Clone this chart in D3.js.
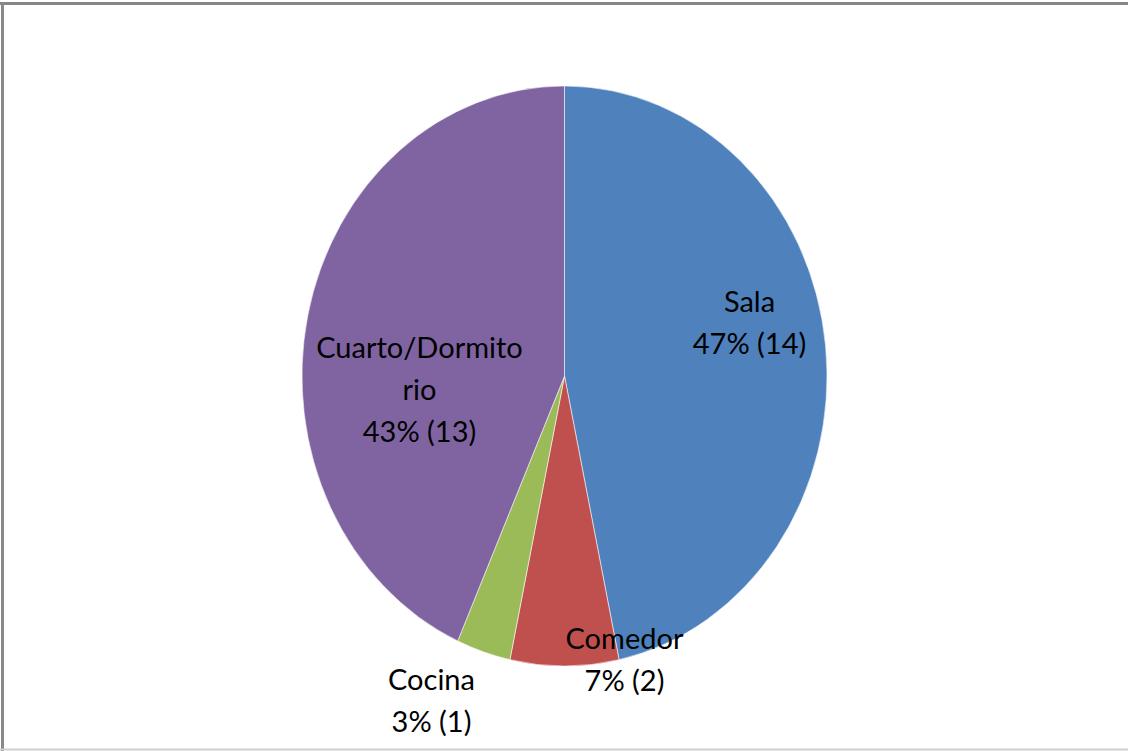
<!DOCTYPE html>
<html>
<head>
<meta charset="utf-8">
<script src="https://cdn.jsdelivr.net/npm/d3@7"></script>
<style>
  html, body { margin: 0; padding: 0; background: #fff; }
  svg { display: block; }
</style>
</head>
<body>
<svg id="chart" width="1128" height="751"></svg>
<script>
// ---- data ----
const categories = ["Sala", "Comedor", "Cocina", "Cuarto/Dormitorio"];
const values = [14, 2, 1, 13];
const percentLabels = ["47%", "7%", "3%", "43%"];
const nameLines = [["Sala"], ["Comedor"], ["Cocina"], ["Cuarto/Dormito", "rio"]];
const colors = ["#4f81bd", "#c0504d", "#9bbb59", "#8064a2"];

// ---- layout ----
const W = 1128, H = 751;
const cx = 564.5, cy = 376, rx = 262.5, ry = 290;
// label block anchors (first baseline), Excel "best fit" style placement
const labelAnchor = {
  "Sala": [749.5, 311.5],
  "Comedor": [624.5, 649],
  "Cocina": [431.5, 690],
  "Cuarto/Dormitorio": [419.5, 358]
};
const lineH = 42;

const svg = d3.select("#chart");

// border (partial frame as in reference)
svg.append("line").attr("x1", 0).attr("x2", W).attr("y1", 3.5).attr("y2", 3.5)
  .attr("stroke", "#868686").attr("stroke-width", 3);
svg.append("line").attr("x1", 2.5).attr("x2", 2.5).attr("y1", 2).attr("y2", H)
  .attr("stroke", "#8a8a8a").attr("stroke-width", 3);
svg.append("line").attr("x1", 0).attr("x2", W).attr("y1", 749.5).attr("y2", 749.5)
  .attr("stroke", "#cfcfcf").attr("stroke-width", 2);

const pie = d3.pie().sort(null).value(d => d)(values);
const arc = d3.arc().innerRadius(0).outerRadius(ry);

const g = svg.append("g")
  .attr("transform", `translate(${cx},${cy}) scale(${rx / ry},1)`);

g.selectAll("path").data(pie).join("path")
  .attr("d", arc)
  .attr("fill", (d, i) => colors[i])
  .attr("stroke", "rgba(255,255,255,0.55)")
  .attr("stroke-width", 1)
  .attr("vector-effect", "non-scaling-stroke");

const labels = svg.append("g")
  .attr("font-family", "Lato, 'Open Sans', sans-serif")
  .attr("font-size", 29)
  .attr("fill", "#000")
  .attr("text-anchor", "middle");

categories.forEach((c, i) => {
  const [x, y] = labelAnchor[c];
  const lines = nameLines[i].concat([`${percentLabels[i]} (${values[i]})`]);
  lines.forEach((t, j) => {
    labels.append("text")
      .attr("x", x).attr("y", y + j * lineH)
      .text(t);
  });
});
</script>
</body>
</html>
